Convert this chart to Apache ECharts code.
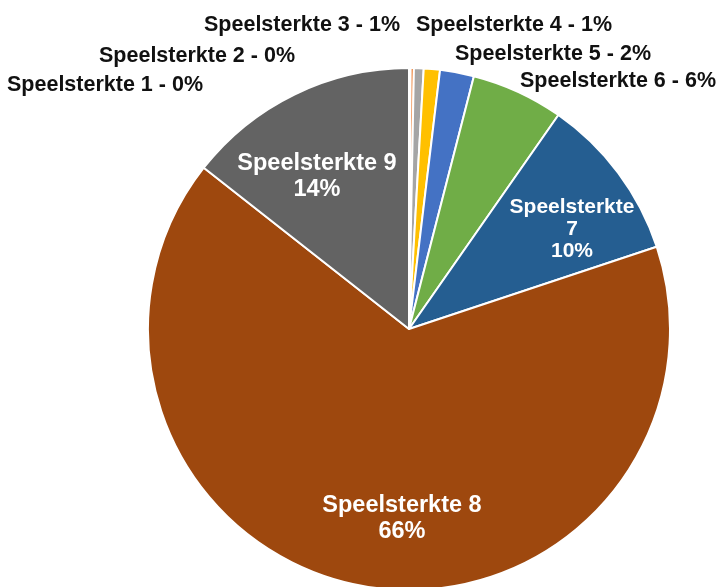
<!DOCTYPE html>
<html><head><meta charset="utf-8">
<script src="https://cdn.jsdelivr.net/npm/echarts@6/dist/echarts.min.js"></script>
<style>html,body{margin:0;padding:0;background:#fff}#c{width:719px;height:587px}</style>
</head><body><div id="c"></div>
<script>
const categories = ['Speelsterkte 1','Speelsterkte 2','Speelsterkte 3','Speelsterkte 4','Speelsterkte 5','Speelsterkte 6','Speelsterkte 7','Speelsterkte 8','Speelsterkte 9'];
const values = [0.1, 0.2, 0.6, 1.0, 2.1, 5.7, 10.2, 65.7, 14.4];
const colors = ['#5B9BD5','#ED7D31','#A5A5A5','#FFC000','#4472C4','#70AD47','#255E91','#9E480E','#636363'];
const insideIdx = [6, 7, 8];

const labelPos = [[105,85],[197,56],[302,25],[514,25],[553,54],[618,81],[572,229],[402,519],[317,177]];

const chart = echarts.init(document.getElementById('c'), null, {renderer:'canvas'});
const data = categories.map((name, i) => {
  const inside = insideIdx.includes(i);
  return {
    name, value: values[i],
    itemStyle: {color: colors[i]},
    label: inside ? {
      position: 'inside', color: '#fff', fontSize: i === 6 ? 21 : 23.5, lineHeight: i === 6 ? 22 : 26,
      fontFamily: 'Liberation Sans', fontWeight: 'bold'
    } : {
      position: 'outside', color: '#111', fontSize: 21.5,
      fontFamily: 'Liberation Sans', fontWeight: 'bold'
    }
  };
});
chart.setOption({
  animation: false,
  series: [{
    type: 'pie',
    center: [409, 329],
    radius: 261,
    startAngle: 90,
    clockwise: true,
    avoidLabelOverlap: false,
    data,
    itemStyle: {borderColor: '#fff', borderWidth: 2},
    labelLine: {show: false},
    label: {
      formatter: p => {
        const pct = Math.round(p.percent) + '%';
        if (p.dataIndex === 6) return 'Speelsterkte\n7\n' + pct;
        if (insideIdx.includes(p.dataIndex)) return p.name + '\n' + pct;
        return p.name + ' - ' + pct;
      }
    },
    labelLayout: params => {
      const p = labelPos[params.dataIndex];
      return {x: p[0], y: p[1], align: 'center', verticalAlign: 'middle'};
    },
    emphasis: {disabled: true}
  }]
});
</script></body></html>
